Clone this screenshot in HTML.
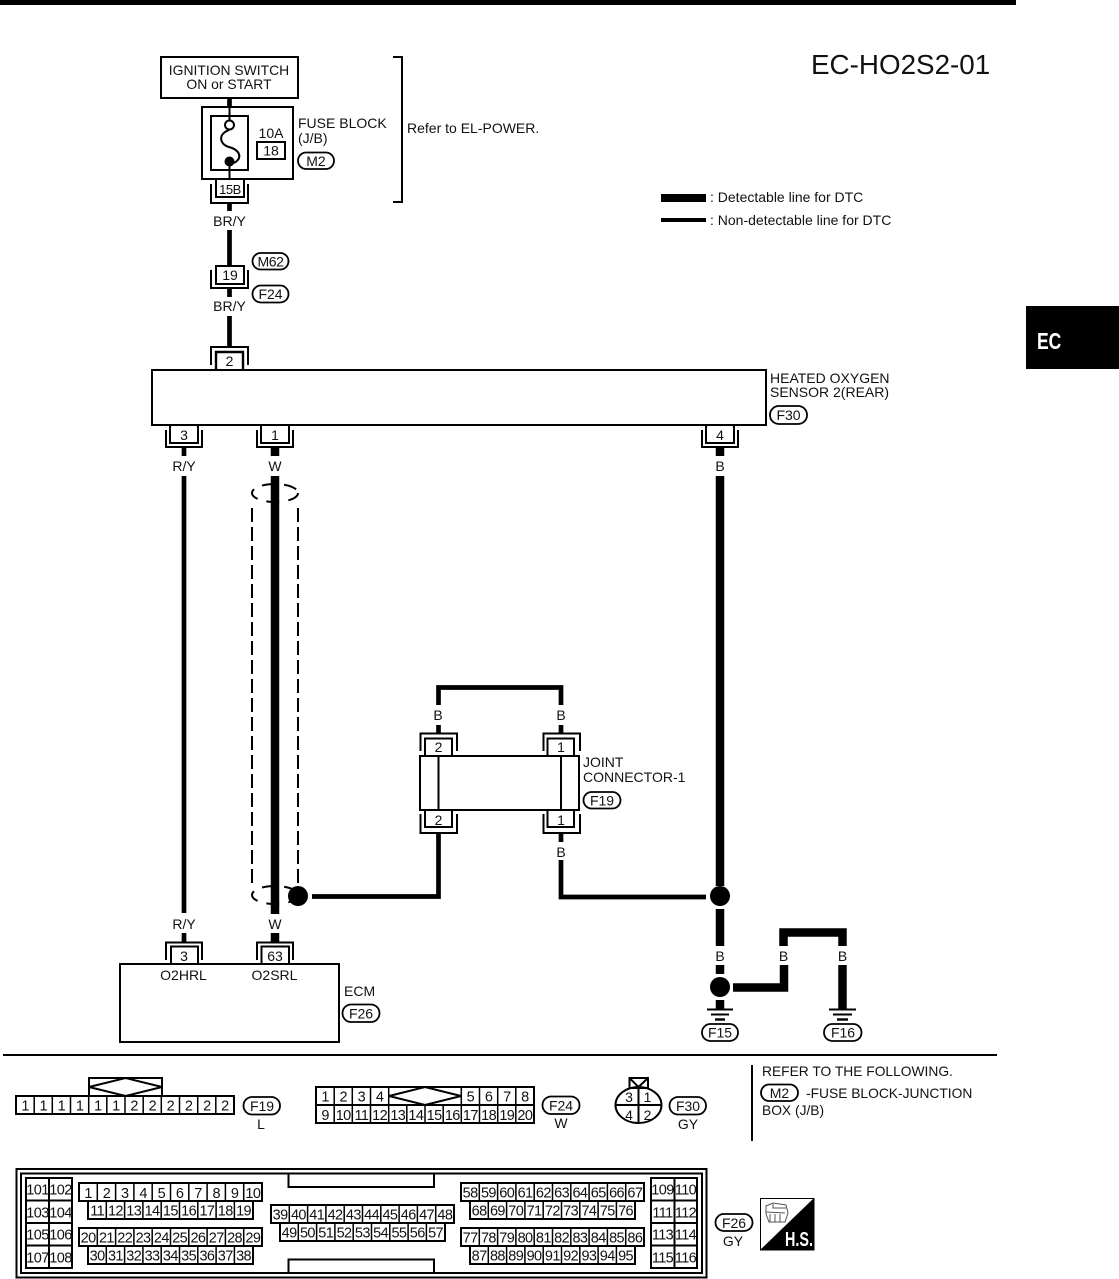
<!DOCTYPE html>
<html>
<head>
<meta charset="utf-8">
<style>
html,body{margin:0;padding:0;background:#fff;width:1119px;height:1279px;overflow:hidden}
svg{display:block}
text{font-family:"Liberation Sans",sans-serif;font-size:14px;fill:#111}
.m{text-anchor:middle}
.c text{text-anchor:middle;font-size:14.5px;letter-spacing:-.6px;transform:translateY(.4px)}
.b{fill:#fff;stroke:#000;stroke-width:2}
.n{fill:none;stroke:#000;stroke-width:2}
.g{fill:none;stroke:#000;stroke-width:1.5}
.w{fill:none;stroke:#000;stroke-width:4.7}
.t{fill:none;stroke:#000;stroke-width:8.5}
.o{fill:#fff;stroke:#000;stroke-width:1.8}
</style>
</head>
<body>
<svg width="1119" height="1279" viewBox="0 0 1119 1279" xmlns="http://www.w3.org/2000/svg">
<defs>
<path id="g10" class="g" d="M18.3 0V18M36.6 0V18M54.9 0V18M73.2 0V18M91.5 0V18M109.8 0V18M128.1 0V18M146.4 0V18M164.7 0V18"/>
<path id="g9" class="g" d="M18.3 0V18M36.6 0V18M54.9 0V18M73.2 0V18M91.5 0V18M109.8 0V18M128.1 0V18M146.4 0V18"/>
</defs>
<rect width="1119" height="1279" fill="#fff"/>
<rect x="0" y="0" width="1016" height="5" fill="#000"/>
<rect x="1026" y="306" width="93" height="63" fill="#000"/>
<text x="1037" y="349" transform="translate(1037 349) scale(.76 1) translate(-1037 -349)" style="font-size:23px;font-weight:bold;fill:#fff">EC</text>
<text x="811" y="74" style="font-size:27.8px">EC-HO2S2-01</text>

<!-- legend -->
<rect x="661" y="194" width="45" height="8" fill="#000"/>
<text x="710" y="202">: Detectable line for DTC</text>
<rect x="661" y="218" width="45" height="4" fill="#000"/>
<text x="710" y="225">: Non-detectable line for DTC</text>

<!-- ignition -->
<path class="w" d="M229.5 98V107"/>
<rect class="b" x="161" y="57" width="137" height="41"/>
<text class="m" x="229" y="75" style="font-size:13.9px">IGNITION SWITCH</text>
<text class="m" x="229" y="89" style="font-size:13.9px">ON or START</text>
<rect class="b" x="202" y="107" width="91" height="72"/>
<rect class="b" x="211" y="116" width="37" height="54"/>
<path class="n" d="M229.5 107V121M229.5 166V180"/>
<circle cx="229.5" cy="125" r="4.5" fill="#fff" stroke="#000" stroke-width="2"/>
<path class="n" d="M229 130C218 134 219 144 229 147C240 150 243 158 234 163"/>
<circle cx="229.5" cy="161.5" r="5" fill="#000"/>
<text class="m" x="271" y="138">10A</text>
<rect class="n" x="257" y="142" width="28" height="17"/>
<text class="m" x="271" y="155.5">18</text>
<text x="298" y="128">FUSE BLOCK</text>
<text x="298" y="143">(J/B)</text>
<rect class="o" x="298" y="152.5" width="36" height="16.5" rx="8.2"/>
<text class="m" x="316" y="166">M2</text>
<path class="n" d="M393 57H402V202H393"/>
<text x="407" y="133">Refer to EL-POWER.</text>

<!-- 15B -->
<path class="n" d="M216 179V197H244V179"/>
<path class="n" d="M211 184V203H248V184"/>
<text class="m" x="230" y="194" style="font-size:13px;letter-spacing:-.5px">15B</text>
<path class="w" d="M229.5 203V211M229.5 230V266"/>
<text class="m" x="229.5" y="226">BR/Y</text>
<!-- 19 -->
<rect class="n" x="216" y="266" width="28" height="18"/>
<path class="n" d="M211 270V288H248V270"/>
<text class="m" x="230" y="280">19</text>
<path class="w" d="M229.5 288V297M229.5 316V347"/>
<text class="m" x="229.5" y="311">BR/Y</text>
<rect class="o" x="252.5" y="253" width="36" height="16.5" rx="8.2"/>
<text class="m" x="270.5" y="266.5" style="letter-spacing:-.4px">M62</text>
<rect class="o" x="252.5" y="285.5" width="36" height="17" rx="8.4"/>
<text class="m" x="270.5" y="299">F24</text>

<!-- sensor -->
<path class="n" d="M211 365V347H248V365"/>
<path class="n" d="M216 370V352H243V370" style="stroke-width:2.4"/>
<text class="m" x="229.5" y="366">2</text>
<rect class="b" x="152" y="370" width="614" height="55"/>
<text x="770" y="383">HEATED OXYGEN</text>
<text x="770" y="397">SENSOR 2(REAR)</text>
<rect class="o" x="770" y="406" width="37" height="18" rx="8.8"/>
<text class="m" x="788.5" y="420">F30</text>

<path class="n" d="M170 425V443H198V425"/><path class="n" d="M166 430V447H202V430"/>
<text class="m" x="184" y="440">3</text>
<path class="n" d="M261 425V443H289V425"/><path class="n" d="M257 430V447H293V430"/>
<text class="m" x="275" y="440">1</text>
<path class="n" d="M706 425V443H734V425"/><path class="n" d="M702 430V447H738V430"/>
<text class="m" x="720" y="440">4</text>

<path class="w" d="M184 447V456M184 476V913M184 933V942"/>
<text class="m" x="184" y="471">R/Y</text>
<text class="m" x="184" y="929">R/Y</text>
<path class="t" d="M275 447V456M275 933V942"/>
<text class="m" x="275" y="471">W</text>
<text class="m" x="275" y="929">W</text>

<!-- shield -->
<path class="n" d="M252 508V886M298 508V884" stroke-dasharray="14 5" />
<ellipse class="n" cx="275" cy="493" rx="23" ry="9" stroke-dasharray="13 9"/>
<ellipse class="n" cx="275" cy="895" rx="23" ry="9" stroke-dasharray="13 9"/>
<path class="t" d="M275 476V914"/>
<circle cx="298" cy="896" r="10" fill="#000"/>
<path class="w" d="M312 896.5H438.5V833"/>

<!-- right wire -->
<path class="t" d="M720 447V456M720 476V886M720 909V946M720 965V974M720 1000V1009"/>
<text class="m" x="720" y="471">B</text>
<text class="m" x="720" y="961">B</text>
<circle cx="720" cy="896" r="10" fill="#000"/>
<path class="w" d="M561 860V897H706"/>
<circle cx="720" cy="987" r="10" fill="#000"/>
<path class="t" d="M733 987.5H784V965M783.5 946V932.5H842.5V946M842.5 965V1009"/>
<text class="m" x="783.5" y="961">B</text>
<text class="m" x="842.5" y="961">B</text>
<path class="n" d="M707 1009.5H733M711 1014.5H729"/><path class="n" d="M715 1019.5H725" style="stroke-width:2.4"/>
<path class="n" d="M829 1009.5H856M833 1014.5H852"/><path class="n" d="M837 1019.5H848" style="stroke-width:2.4"/>
<rect class="o" x="702" y="1024" width="36" height="17" rx="8.4"/>
<text class="m" x="720" y="1037.5">F15</text>
<rect class="o" x="824" y="1024" width="37.5" height="17" rx="8.4"/>
<text class="m" x="843" y="1037.5">F16</text>

<!-- joint connector -->
<path class="w" d="M438.5 705V687.5H561V705"/>
<text class="m" x="438" y="720">B</text>
<text class="m" x="561" y="720">B</text>
<path class="w" d="M438.5 725V733M561 725V733M561 833V842"/>
<text class="m" x="561" y="857">B</text>
<path class="n" d="M420.5 751V733.5H457V751"/><path class="n" d="M425 756V738.5H452V756"/>
<text class="m" x="438.5" y="752">2</text>
<path class="n" d="M543.5 751V733.5H580V751"/><path class="n" d="M547.5 756V738.5H574V756"/>
<text class="m" x="561" y="752">1</text>
<rect class="b" x="420" y="756" width="159" height="54"/>
<path class="n" d="M438.5 756V810M561 756V810"/>
<path class="n" d="M425 810V827H452V810"/><path class="n" d="M420.5 814V833H457V814"/>
<text class="m" x="438.5" y="825">2</text>
<path class="n" d="M547.5 810V827H574V810"/><path class="n" d="M543.5 814V833H580V814"/>
<text class="m" x="561" y="825">1</text>
<text x="583" y="767">JOINT</text>
<text x="583" y="782">CONNECTOR-1</text>
<rect class="o" x="583.5" y="792" width="37" height="16.5" rx="8.2"/>
<text class="m" x="602" y="805.5">F19</text>

<!-- ECM -->
<path class="n" d="M166 960V942.5H202V960"/><path class="n" d="M171 964V946.5H198V964"/>
<text class="m" x="184" y="961">3</text>
<path class="n" d="M257 960V942.5H293V960"/><path class="n" d="M261.5 964V946.5H289V964"/>
<text class="m" x="275" y="961">63</text>
<rect class="b" x="120" y="964" width="219" height="78"/>
<text class="m" x="183.5" y="980">O2HRL</text>
<text class="m" x="274.5" y="980">O2SRL</text>
<text x="344" y="996">ECM</text>
<rect class="o" x="342.5" y="1004.5" width="37" height="17.5" rx="8.6"/>
<text class="m" x="361" y="1018.5">F26</text>

<path d="M3 1055H997" class="n"/>

<!-- F19 -->
<rect class="n" x="89" y="1078" width="73" height="18"/>
<path class="n" d="M89 1087L125.5 1078L162 1087L125.5 1096Z"/>
<rect class="n" x="16" y="1096" width="218" height="18"/>
<g class="c" transform="translate(16 1096)">
<path class="g" d="M18.2 0V18M36.3 0V18M54.5 0V18M72.7 0V18M90.8 0V18M109 0V18M127.2 0V18M145.3 0V18M163.5 0V18M181.7 0V18M199.800 0V18"/>
<text x="9.1" y="14">1</text><text x="27.2" y="14">1</text><text x="45.4" y="14">1</text><text x="63.6" y="14">1</text><text x="81.8" y="14">1</text><text x="99.9" y="14">1</text><text x="118.1" y="14">2</text><text x="136.3" y="14">2</text><text x="154.4" y="14">2</text><text x="172.6" y="14">2</text><text x="190.8" y="14">2</text><text x="208.9" y="14">2</text>
</g>
<rect class="o" x="243.5" y="1097" width="36.5" height="17.5" rx="8.6"/>
<text class="m" x="262" y="1111">F19</text>
<text class="m" x="261" y="1129">L</text>

<!-- F24 -->
<rect class="n" x="316" y="1087" width="218" height="36"/>
<path class="n" d="M316 1105H534"/>
<path class="g" d="M334.2 1087V1123M352.3 1087V1123M370.5 1087V1123M388.7 1087V1123M406.8 1105V1123M425 1105V1123M443.2 1105V1123M461.3 1087V1123M479.5 1087V1123M497.7 1087V1123M515.8 1087V1123"/>
<path class="n" d="M389 1096L425 1087L461 1096L425 1105Z"/>
<g class="c" transform="translate(316 1087)">
<text x="9.1" y="14">1</text><text x="27.2" y="14">2</text><text x="45.4" y="14">3</text><text x="63.6" y="14">4</text><text x="154.4" y="14">5</text><text x="172.6" y="14">6</text><text x="190.8" y="14">7</text><text x="208.9" y="14">8</text>
<text x="9.1" y="32.5">9</text><text x="27.2" y="32.5">10</text><text x="45.4" y="32.5">11</text><text x="63.6" y="32.5">12</text><text x="81.8" y="32.5">13</text><text x="99.9" y="32.5">14</text><text x="118.1" y="32.5">15</text><text x="136.3" y="32.5">16</text><text x="154.4" y="32.5">17</text><text x="172.6" y="32.5">18</text><text x="190.8" y="32.5">19</text><text x="208.9" y="32.5">20</text>
</g>
<rect class="o" x="542.5" y="1096.5" width="37" height="17.5" rx="8.6"/>
<text class="m" x="561" y="1110.5">F24</text>
<text class="m" x="561" y="1128">W</text>

<!-- F30 -->
<rect class="n" x="629.5" y="1078" width="18.5" height="10"/>
<path class="n" d="M629.5 1078L638.5 1087L648 1078"/>
<ellipse class="n" cx="638.5" cy="1105" rx="23" ry="18"/>
<path class="n" d="M638.5 1087V1123M615.5 1105H661.5"/>
<text class="m" x="629" y="1102">3</text><text class="m" x="647.5" y="1102">1</text>
<text class="m" x="629" y="1120">4</text><text class="m" x="647.5" y="1120">2</text>
<rect class="o" x="669.5" y="1097" width="36.500" height="17.5" rx="8.6"/>
<text class="m" x="688" y="1111">F30</text>
<text class="m" x="688" y="1129">GY</text>

<path class="n" d="M752 1065V1141"/>
<text x="762" y="1076" style="font-size:13.8px">REFER TO THE FOLLOWING.</text>
<rect class="o" x="761" y="1084.5" width="37" height="16.5" rx="8.2"/>
<text class="m" x="779.5" y="1098">M2</text>
<text x="806" y="1098" style="font-size:13.8px">-FUSE BLOCK-JUNCTION</text>
<text x="762" y="1115" style="font-size:13.8px">BOX (J/B)</text>

<!-- ECM connector -->
<rect class="n" x="16.5" y="1169" width="690" height="108.5"/>
<rect class="n" x="21" y="1173.5" width="681" height="99.5"/>
<path class="n" d="M288.5 1173.5V1187H434V1173.5M288.5 1273V1259.5H434V1273"/>

<rect class="n" x="26" y="1178" width="46" height="90"/>
<path class="n" d="M49 1178V1268M26 1200.5H72M26 1223H72M26 1245.5H72"/>
<g class="c">
<text x="37.5" y="1194">101</text><text x="60.5" y="1194">102</text>
<text x="37.5" y="1217">103</text><text x="60.5" y="1217">104</text>
<text x="37.5" y="1239">105</text><text x="60.5" y="1239">106</text>
<text x="37.5" y="1262">107</text><text x="60.5" y="1262">108</text>
</g>
<rect class="n" x="651" y="1178" width="46" height="90"/>
<path class="n" d="M674.5 1178V1268M651 1200.5H697M651 1223H697M651 1245.5H697"/>
<g class="c">
<text x="662.5" y="1194">109</text><text x="685.5" y="1194">110</text>
<text x="662.5" y="1217">111</text><text x="685.5" y="1217">112</text>
<text x="662.5" y="1239">113</text><text x="685.5" y="1239">114</text>
<text x="662.5" y="1262">115</text><text x="685.5" y="1262">116</text>
</g>

<g class="c" transform="translate(79 1183)">
<rect class="n" width="183" height="18"/><use href="#g10"/>
<text x="9.15" y="14.5">1</text><text x="27.45" y="14.5">2</text><text x="45.75" y="14.5">3</text><text x="64.05" y="14.5">4</text><text x="82.35" y="14.5">5</text><text x="100.65" y="14.5">6</text><text x="118.95" y="14.5">7</text><text x="137.25" y="14.5">8</text><text x="155.55" y="14.5">9</text><text x="173.85" y="14.5">10</text>
</g>
<g class="c" transform="translate(88 1201)">
<rect class="n" width="165" height="18"/><use href="#g9"/>
<text x="9.15" y="14">11</text><text x="27.45" y="14">12</text><text x="45.75" y="14">13</text><text x="64.05" y="14">14</text><text x="82.35" y="14">15</text><text x="100.65" y="14">16</text><text x="118.95" y="14">17</text><text x="137.25" y="14">18</text><text x="155.55" y="14">19</text>
</g>
<g class="c" transform="translate(79 1228)">
<rect class="n" width="183" height="18"/><use href="#g10"/>
<text x="9.15" y="14">20</text><text x="27.45" y="14">21</text><text x="45.75" y="14">22</text><text x="64.05" y="14">23</text><text x="82.35" y="14">24</text><text x="100.65" y="14">25</text><text x="118.95" y="14">26</text><text x="137.25" y="14">27</text><text x="155.55" y="14">28</text><text x="173.85" y="14">29</text>
</g>
<g class="c" transform="translate(88 1246)">
<rect class="n" width="165" height="18"/><use href="#g9"/>
<text x="9.15" y="14">30</text><text x="27.45" y="14">31</text><text x="45.75" y="14">32</text><text x="64.05" y="14">33</text><text x="82.35" y="14">34</text><text x="100.65" y="14">35</text><text x="118.95" y="14">36</text><text x="137.25" y="14">37</text><text x="155.55" y="14">38</text>
</g>
<g class="c" transform="translate(271 1205)">
<rect class="n" width="183" height="18"/><use href="#g10"/>
<text x="9.15" y="14">39</text><text x="27.45" y="14">40</text><text x="45.75" y="14">41</text><text x="64.05" y="14">42</text><text x="82.35" y="14">43</text><text x="100.65" y="14">44</text><text x="118.95" y="14">45</text><text x="137.25" y="14">46</text><text x="155.55" y="14">47</text><text x="173.85" y="14">48</text>
</g>
<g class="c" transform="translate(280 1223)">
<rect class="n" width="165" height="18"/><use href="#g9"/>
<text x="9.15" y="14">49</text><text x="27.45" y="14">50</text><text x="45.75" y="14">51</text><text x="64.05" y="14">52</text><text x="82.35" y="14">53</text><text x="100.65" y="14">54</text><text x="118.95" y="14">55</text><text x="137.25" y="14">56</text><text x="155.55" y="14">57</text>
</g>
<g class="c" transform="translate(461 1183)">
<rect class="n" width="183" height="18"/><use href="#g10"/>
<text x="9.15" y="14">58</text><text x="27.45" y="14">59</text><text x="45.75" y="14">60</text><text x="64.05" y="14">61</text><text x="82.35" y="14">62</text><text x="100.65" y="14">63</text><text x="118.95" y="14">64</text><text x="137.25" y="14">65</text><text x="155.55" y="14">66</text><text x="173.85" y="14">67</text>
</g>
<g class="c" transform="translate(470 1201)">
<rect class="n" width="165" height="18"/><use href="#g9"/>
<text x="9.15" y="14">68</text><text x="27.45" y="14">69</text><text x="45.75" y="14">70</text><text x="64.05" y="14">71</text><text x="82.35" y="14">72</text><text x="100.65" y="14">73</text><text x="118.95" y="14">74</text><text x="137.25" y="14">75</text><text x="155.55" y="14">76</text>
</g>
<g class="c" transform="translate(461 1228)">
<rect class="n" width="183" height="18"/><use href="#g10"/>
<text x="9.15" y="14">77</text><text x="27.45" y="14">78</text><text x="45.75" y="14">79</text><text x="64.05" y="14">80</text><text x="82.35" y="14">81</text><text x="100.65" y="14">82</text><text x="118.95" y="14">83</text><text x="137.25" y="14">84</text><text x="155.55" y="14">85</text><text x="173.85" y="14">86</text>
</g>
<g class="c" transform="translate(470 1246)">
<rect class="n" width="165" height="18"/><use href="#g9"/>
<text x="9.15" y="14">87</text><text x="27.45" y="14">88</text><text x="45.75" y="14">89</text><text x="64.05" y="14">90</text><text x="82.35" y="14">91</text><text x="100.65" y="14">92</text><text x="118.95" y="14">93</text><text x="137.25" y="14">94</text><text x="155.55" y="14">95</text>
</g>

<!-- F26 / HS -->
<rect class="o" x="715.5" y="1214" width="37" height="17" rx="8.4"/>
<text class="m" x="734" y="1228">F26</text>
<text class="m" x="733" y="1246">GY</text>
<rect x="760.5" y="1198.5" width="53.5" height="51.5" fill="#fff" stroke="#000"/>
<path d="M814 1198L760 1250H814Z" fill="#000"/>
<path d="M766 1206L773 1203L786 1205L788 1213L785 1222H769L766 1214ZM766 1212L785 1213M773 1204V1208L786 1208M770 1214V1222M775 1214V1222M780 1214V1222" fill="none" stroke="#555" stroke-width="1"/>
<text x="785" y="1246" transform="translate(785 1246) scale(.72 1) translate(-785 -1246)" style="font-size:20px;font-weight:bold;fill:#fff">H.S.</text>
</svg>
</body>
</html>
